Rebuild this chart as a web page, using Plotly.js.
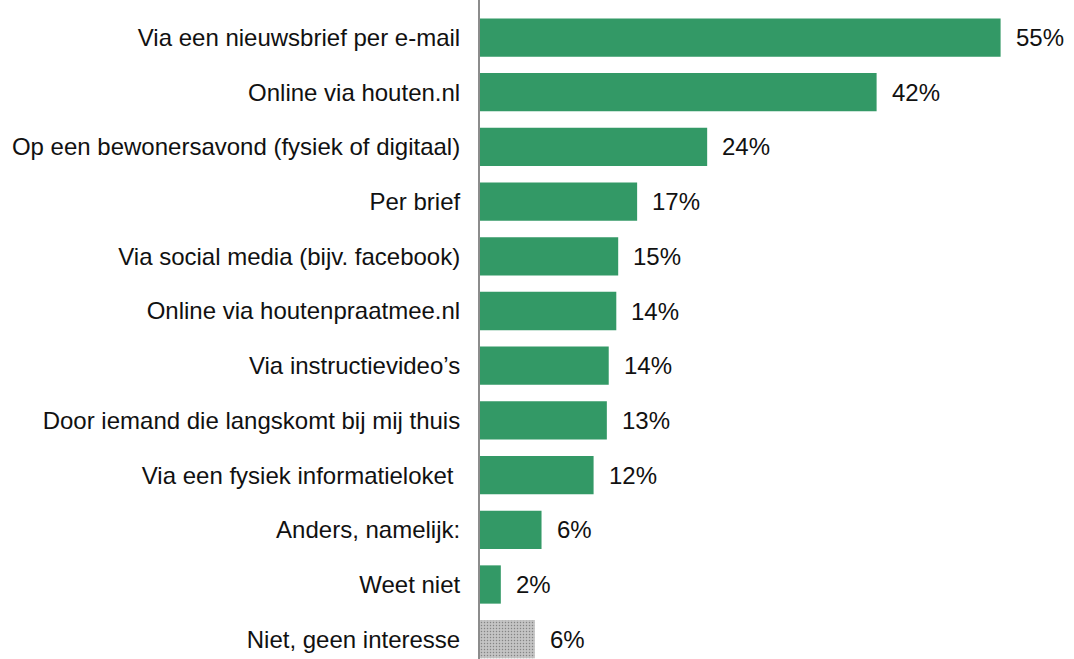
<!DOCTYPE html>
<html>
<head>
<meta charset="utf-8">
<script src="https://cdn.plot.ly/plotly-3.0.1.min.js"></script>
<style>html,body{margin:0;padding:0;background:#fff;}#chart{width:1074px;height:659px;}</style>
</head>
<body>
<div id="chart"></div>
<script>
const categories = [
  "Via een nieuwsbrief per e-mail",
  "Online via houten.nl",
  "Op een bewonersavond (fysiek of digitaal)",
  "Per brief",
  "Via social media (bijv. facebook)",
  "Online via houtenpraatmee.nl",
  "Via instructievideo’s",
  "Door iemand die langskomt bij mij thuis",
  "Via een fysiek informatieloket ",
  "Anders, namelijk:",
  "Weet niet",
  "Niet, geen interesse"
];
const values = [55.0, 41.9, 24.0, 16.6, 14.6, 14.4, 13.6, 13.4, 12.0, 6.5, 2.2, 5.8];
const valueLabels = ["55%", "42%", "24%", "17%", "15%", "14%", "14%", "13%", "12%", "6%", "2%", "6%"];
const barColors = categories.map((c, i) => i === categories.length - 1 ? "#C4C4C4" : "#339966");

const trace = {
  type: "bar",
  orientation: "h",
  x: values,
  y: categories,
  marker: {
    color: barColors,
    line: {width: 0},
    pattern: {
      shape: categories.map((c, i) => i === categories.length - 1 ? "." : ""),
      fillmode: "overlay",
      fgcolor: "#B6B6B6",
      size: 3,
      solidity: 0.2
    }
  },
  hoverinfo: "none"
};

const annotations = categories.map((c, i) => ({
  x: values[i],
  y: c,
  xref: "x",
  yref: "y",
  text: valueLabels[i],
  showarrow: false,
  xanchor: "left",
  yanchor: "middle",
  xshift: 13,
  font: {family: "Liberation Sans, Arial, sans-serif", size: 24, color: "#111"}
}));

const layout = {
  width: 1074,
  height: 659,
  margin: {l: 480, r: 45, t: 0, b: 0, pad: 0},
  paper_bgcolor: "#fff",
  plot_bgcolor: "#fff",
  showlegend: false,
  bargap: 0.3,
  xaxis: {
    range: [0, 58],
    visible: false,
    showgrid: false,
    zeroline: false
  },
  yaxis: {
    type: "category",
    range: [11.362, -0.686],
    showline: true,
    linecolor: "#8C8C8C",
    linewidth: 2,
    showgrid: false,
    zeroline: false,
    ticks: "outside",
    ticklen: 13,
    tickcolor: "rgba(0,0,0,0)",
    tickfont: {family: "Liberation Sans, Arial, sans-serif", size: 24, color: "#111"}
  },
  annotations: annotations
};

Plotly.newPlot("chart", [trace], layout, {staticPlot: true, displayModeBar: false});
</script>
</body>
</html>
